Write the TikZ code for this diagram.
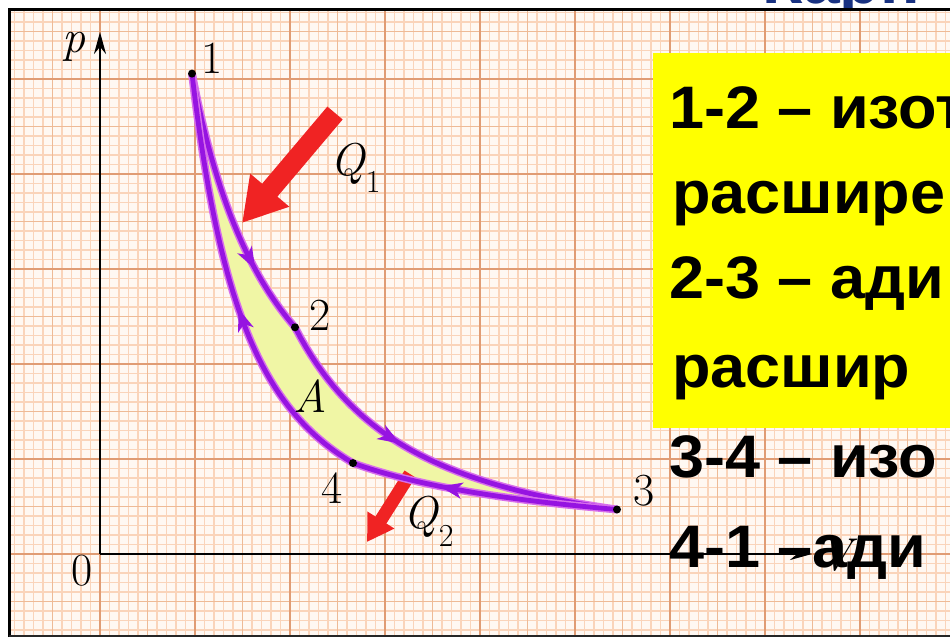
\documentclass[tikz,border=0pt]{standalone}
\usepackage{fontspec}
\newfontfamily\arialf{Liberation Sans}
\usetikzlibrary{arrows.meta,decorations.markings}
\definecolor{paperbg}{RGB}{255,248,242}
\definecolor{gridminor}{RGB}{250,212,186}
\definecolor{gridmid}{RGB}{238,186,150}
\definecolor{gridmajor}{RGB}{224,156,116}
\definecolor{cyclefill}{RGB}{240,246,165}
\definecolor{cyclepurple}{RGB}{150,20,225}
\definecolor{cyclehalo}{RGB}{215,110,235}
\definecolor{heatred}{RGB}{240,35,35}
\definecolor{titleblue}{RGB}{25,50,130}
\definecolor{boxyellow}{RGB}{255,255,0}
\newcommand{\lblsize}{\fontsize{46}{46}\selectfont}
\newcommand{\subsize}{\fontsize{32}{32}\selectfont}
\tikzset{
  lbl/.style={font=\lblsize, inner sep=0pt, anchor=base west},
  dotnode/.style={circle, fill=black, inner sep=0pt, minimum size=8pt},
  cyc/.style={draw=cyclepurple, line width=4.8pt, preaction={draw=cyclehalo, line width=7.8pt}},
  cycarrow/.style={postaction={decorate, decoration={markings,
      mark=at position #1 with {\arrow[cyclepurple]{Stealth[length=22pt,width=16pt,inset=6pt]}}}}},
  bigtext/.style={font=\arialf\bfseries\fontsize{60}{60}\selectfont, inner sep=0pt, anchor=base west},
  axisline/.style={draw=black, line width=2.5pt, -{Stealth[length=22pt,width=12pt]}},
}
\begin{document}
\begin{tikzpicture}[x=1pt,y=-1pt]
\useasboundingbox (0,0) rectangle (950,637);
\clip (0,0) rectangle (950,637);
\fill[white] (0,0) rectangle (950,637);
% title (cut at top)
\node[font=\arialf\bfseries\fontsize{66}{66}\selectfont, inner sep=0pt, anchor=base west, text=titleblue] (title) at (762,4) {Карн};
% graph paper
\fill[paperbg] (9,9) rectangle (950,637);
\foreach \k in {-9,...,89} \draw[gridminor, line width=1.4pt] ({100+9.5*\k},9) -- ({100+9.5*\k},637);
\foreach \k in {-8,...,57} \draw[gridminor, line width=1.4pt] (9,{554-9.5*\k}) -- (950,{554-9.5*\k});
\foreach \k in {-1,...,17} \draw[gridmid, line width=1.3pt] ({100+47.5*\k},9) -- ({100+47.5*\k},637);
\foreach \k in {-1,...,11} \draw[gridmid, line width=1.3pt] (9,{554-47.5*\k}) -- (950,{554-47.5*\k});
\foreach \k in {0,...,8} \draw[gridmajor, line width=1.6pt] ({100+95*\k},9) -- ({100+95*\k},637);
\foreach \k in {0,...,5} \draw[gridmajor, line width=1.6pt] (9,{554-95*\k}) -- (950,{554-95*\k});
% frame
\draw[line width=3pt, black] (9,637) -- (9,9) -- (950,9);
\draw[line width=2pt, black!85] (9,636) -- (950,636);
% cycle area
\fill[cyclefill]
  plot[domain=92:195, samples=40] ({100+\x},{554-442/(\x/100)})
  -- plot[domain=195:517, samples=50] ({100+\x},{554-226.67*exp(1.67*ln(195/\x))})
  -- plot[domain=517:253, samples=50] ({100+\x},{554-230/(\x/100)})
  -- plot[domain=253:92, samples=50] ({100+\x},{554-90.91*exp(1.6457*ln(253/\x))})
  -- cycle;
% heat arrows
\coordinate (q1s) at (335,113);
\coordinate (q1e) at (242,223);
\coordinate (q2s) at (410,474);
\coordinate (q2e) at (367,542);
\draw[heatred, line width=20pt, -{Triangle[length=43pt,width=48pt]}] (q1s) -- (q1e);
\draw[heatred, line width=13pt, -{Triangle[length=26pt,width=30pt]}] (q2s) -- (q2e);
% axes
\coordinate (O) at (100,554);
\coordinate (xend) at (812,554);
\coordinate (yend) at (100,32);
\draw[axisline] (O) -- (xend);
\draw[axisline] (O) -- (yend);
% cycle curves
\draw[cyc, cycarrow=0.745] plot[domain=92:195, samples=40] ({100+\x},{554-442/(\x/100)});
\draw[cyc, cycarrow=0.41] plot[domain=195:517, samples=60] ({100+\x},{554-226.67*exp(1.67*ln(195/\x))});
\draw[cyc, cycarrow=0.664] plot[domain=517:253, samples=50] ({100+\x},{554-230/(\x/100)});
\draw[cyc, cycarrow=0.45] plot[domain=253:92, samples=60] ({100+\x},{554-90.91*exp(1.6457*ln(253/\x))});
% state points
\node[dotnode] (n1) at (192,73.6) {};
\node[dotnode] (n2) at (295,327.3) {};
\node[dotnode] (n3) at (617,509.5) {};
\node[dotnode] (n4) at (353,463.1) {};
% labels
\node[lbl] (l1) at (201,73) {1};
\node[lbl] (l2) at (309,330) {2};
\node[lbl] (l3) at (633,505) {3};
\node[lbl] (l4) at (321,503) {4};
\node[lbl] (lA) at (293,412) {\textit{A}};
\node[lbl] (lQ1) at (330,175) {\textit{Q}\raisebox{-17pt}{\subsize 1}};
\node[lbl] (lQ2) at (403,528) {\textit{Q}\raisebox{-18pt}{\subsize 2}};
\node[lbl] (lp) at (62,52) {\textit{p}};
\node[lbl, anchor=base] (l0) at (82,585) {0};
\node[lbl, anchor=base] (lV) at (838,570) {\textit{V}};
% yellow box and text
\fill[boxyellow] (653,53) rectangle (950,428);
\node[bigtext] (t1) at (669,128) {\scalebox{1.05}[1]{1-2 – изот}};
\node[bigtext] (t2) at (672,213) {\scalebox{1.05}[1]{расшире}};
\node[bigtext] (t3) at (669,298) {\scalebox{1.05}[1]{2-3 – ади}};
\node[bigtext] (t4) at (672,387) {\scalebox{1.05}[1]{расшир}};
\node[bigtext] (t5) at (669,477) {\scalebox{1.05}[1]{3-4 – изо}};
\node[bigtext] (t6) at (669,567) {\scalebox{1.05}[1]{4-1 –ади}};
\end{tikzpicture}
\end{document}
